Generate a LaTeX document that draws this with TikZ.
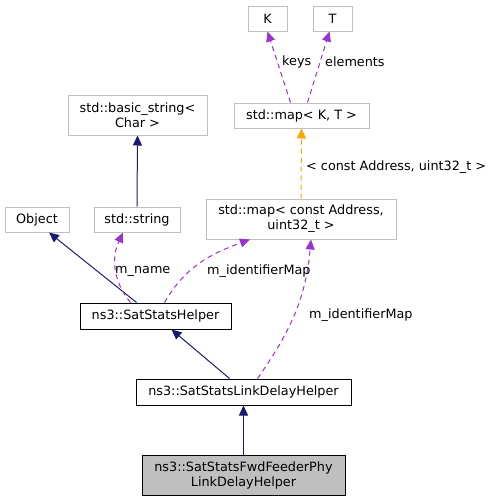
\documentclass[tikz,border=0pt]{standalone}
\usepackage{fontspec}
\setmainfont{DejaVu Sans}
\usetikzlibrary{arrows.meta}
\definecolor{edgeblue}{HTML}{191970}
\definecolor{edgepurple}{HTML}{9A32CD}
\definecolor{edgeorange}{HTML}{FFA500}
\definecolor{boxgray}{HTML}{BFBFBF}
\begin{document}
\begin{tikzpicture}[x=1pt,y=-1pt,
    box/.style={draw=boxgray,line width=1pt,inner sep=0pt,minimum height=25pt,align=center,
      font=\fontsize{12.8}{15}\selectfont},
    mainbox/.style={box,draw=black},
    lbl/.style={inner sep=0pt,anchor=west,font=\fontsize{12.8}{15}\selectfont},
    inh/.style={-{Triangle[length=10pt,width=9pt]},edgeblue,line width=1pt},
    usage/.style={-{Triangle[length=10pt,width=9pt]},edgepurple,line width=1pt,dash pattern=on 5pt off 4pt},
    tmpl/.style={-{Triangle[length=10pt,width=9pt]},edgeorange,line width=1pt,dash pattern=on 5pt off 4pt}]
      \useasboundingbox (0,0) rectangle (493,501);
      % nodes
      \node[box,minimum width=39pt] (K) at (267.5,18.5) {K};
      \node[box,minimum width=39pt] (T) at (332.5,18.5) {T};
      \node[box,minimum width=135pt] (mapkt) at (301.5,115.5) {std::map< K, T >};
      \node[box,minimum width=139pt,minimum height=40pt] (bstr) at (137.5,115) {std::basic\_string<\\Char >};
      \node[box,minimum width=64pt] (obj) at (37,219.5) {Object};
      \node[box,minimum width=86pt] (str) at (137,219.5) {std::string};
      \node[box,minimum width=190pt,minimum height=40pt] (mapaddr) at (301,219) {std::map< const Address,\\uint32\_t >};
      \node[mainbox,minimum width=151pt,minimum height=26pt] (helper) at (155.5,316) {ns3::SatStatsHelper};
      \node[mainbox,minimum width=215pt,minimum height=26pt] (link) at (243.5,392) {ns3::SatStatsLinkDelayHelper};
      \node[mainbox,fill=boxgray,minimum width=203pt,minimum height=40pt] (fwd) at (243.5,475) {ns3::SatStatsFwdFeederPhy\\LinkDelayHelper};
      % edges
      \draw[usage] ([xshift=-11pt]mapkt.north) -- (K.south);
      \draw[usage] ([xshift=6pt]mapkt.north) -- ([xshift=-3pt]T.south);
      \draw[tmpl] (mapaddr.north) -- (mapkt.south);
      \draw[inh] (str.north) -- (bstr.south);
      \draw[inh] ([xshift=-19pt]helper.north) -- ([xshift=12pt]obj.south);
      \draw[usage] ([xshift=-25pt]helper.north) to[out=130,in=-115] ([xshift=-14pt]str.south);
      \draw[usage] ([xshift=9pt]helper.north) to[out=60,in=-160] ([xshift=-51pt]mapaddr.south);
      \draw[usage] ([xshift=14pt]link.north) to[out=55,in=-95] ([xshift=10pt]mapaddr.south);
      \draw[inh] ([xshift=-14pt]link.north) -- ([xshift=16pt]helper.south);
      \draw[inh] (fwd.north) -- (link.south);
      % labels
      \node[lbl] (lkeys) at (282,62) {keys};
      \node[lbl] (lelem) at (325,62) {elements};
      \node[lbl] (ltmpl) at (306,167) {< const Address, uint32\_t >};
      \node[lbl] (lname) at (115,271) {m\_name};
      \node[lbl] (lmap) at (207,271) {m\_identifierMap};
      \node[lbl] (lmaplink) at (309,315) {m\_identifierMap};
    \end{tikzpicture}
\end{document}
